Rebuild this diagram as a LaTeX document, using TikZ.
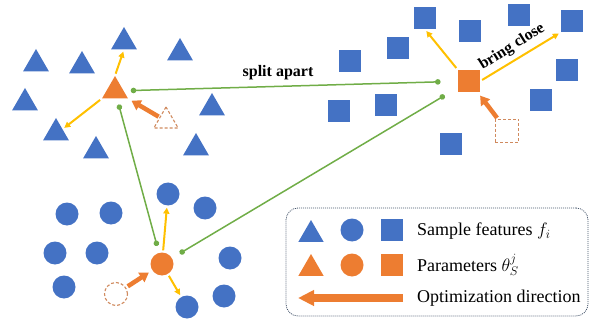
\documentclass[tikz,border=0pt]{standalone}
\usepackage{fix-cm}
\usepackage{fontspec}
\setmainfont{Liberation Serif}
\newfontfamily\tnr{Liberation Serif}
\usetikzlibrary{shapes.geometric,arrows.meta}
\definecolor{cblue}{HTML}{4472C4}
\definecolor{corange}{HTML}{ED7D31}
\definecolor{cyellow}{HTML}{FFC000}
\definecolor{cgreen}{HTML}{70AD47}
\definecolor{cdash}{HTML}{D08A5E}
\definecolor{cframe}{HTML}{44546A}
\begin{document}
\begin{tikzpicture}[x=1pt,y=-1pt,
  tri/.style={regular polygon, regular polygon sides=3, minimum size=30pt, inner sep=0pt, fill=cblue},
  cir/.style={circle, minimum size=23pt, inner sep=0pt, fill=cblue},
  sqr/.style={rectangle, minimum size=22.5pt, inner sep=0pt, fill=cblue},
  par/.style={fill=corange},
  ghost/.style={fill=none, draw=cdash, line width=1.1pt, dash pattern=on 3pt off 2pt},
  yarrow/.style={draw=cyellow, line width=2pt, -{Triangle[length=6pt,width=6pt]}, shorten <=2pt, shorten >=2pt},
  oarrow/.style={draw=corange, line width=4.5pt, -{Triangle[length=9pt,width=11pt]}},
  gline/.style={draw=cgreen, line width=1.5pt, {Circle[length=5.5pt]}-{Circle[length=5.5pt]}},
  lbl/.style={font=\tnr\fontsize{16}{18}\selectfont\bfseries, inner sep=0pt},
  legtxt/.style={font=\tnr\fontsize{18}{20}\selectfont, anchor=west, inner sep=0pt}
]
\useasboundingbox (0,0) rectangle (591,323);

% triangles
\node[tri] (t1) at (124,42) {};
\node[tri] (t2) at (36,64) {};
\node[tri] (t3) at (82,66) {};
\node[tri] (t4) at (180,53) {};
\node[tri] (t5) at (25,103) {};
\node[tri] (tA) at (212,108) {};
\node[tri] (tB) at (56,133) {};
\node[tri] (tC) at (96,151) {};
\node[tri] (tD) at (196,148) {};
\node[tri, par] (T0) at (115,91) {};
\node[tri, ghost, minimum size=28pt] (dT) at (166,121) {};

% squares
\node[sqr] (s1) at (425,18) {};
\node[sqr] (s2) at (470,31) {};
\node[sqr] (s3) at (519,15) {};
\node[sqr] (s4) at (572,21) {};
\node[sqr] (s5) at (398,48) {};
\node[sqr] (s6) at (350,61) {};
\node[sqr] (s7) at (567,70) {};
\node[sqr] (s8) at (386,105) {};
\node[sqr] (s9) at (339,111) {};
\node[sqr] (s10) at (541,100) {};
\node[sqr] (s11) at (451,144) {};
\node[sqr, par] (S0) at (469,81) {};
\node[sqr, ghost, minimum size=23.5pt] (dS) at (507,131) {};

% circles
\node[cir] (c1) at (168,194) {};
\node[cir] (c2) at (205,208) {};
\node[cir] (c3) at (67,214) {};
\node[cir] (c4) at (111,213) {};
\node[cir] (c5) at (55,253) {};
\node[cir] (c6) at (97,253) {};
\node[cir] (c7) at (230,258) {};
\node[cir] (c8) at (64,287) {};
\node[cir] (c9) at (224,296) {};
\node[cir] (c10) at (187,307) {};
\node[cir, par] (C0) at (162,264) {};
\node[cir, ghost] (dC) at (116,294) {};

% bring-close arrows
\draw[yarrow] (T0.north) -- (t1.south);
\draw[yarrow] (T0.corner 2) -- (tB.side 3);
\draw[yarrow] (S0.north west) -- (s1.south);
\draw[yarrow] (S0.east) -- (s4.south west);
\draw[yarrow] (C0) -- (c1);
\draw[yarrow] (C0) -- (c10);

% optimization arrows
\draw[oarrow, shorten <=1pt, shorten >=4pt] (dT) -- (T0);
\draw[oarrow, shorten <=1pt, shorten >=4pt] (dS) -- (S0);
\draw[oarrow, shorten <=2pt, shorten >=4pt] (dC) -- (C0);

% split-apart lines
\draw[gline, shorten <=7pt, shorten >=17pt] (T0) -- (S0);
\draw[gline, shorten <=6pt, shorten >=7pt] (T0) -- (C0);
\draw[gline, shorten <=9pt, shorten >=15pt] (C0) -- (S0);

\node[lbl] (split) at (278,73) {split apart};
\node[lbl, rotate=32] (bring) at (512,47) {bring close};

% legend
\node[draw=cframe, line width=0.8pt, dash pattern=on 1pt off 1pt, rounded corners=12pt,
      minimum width=302pt, minimum height=108pt, inner sep=0pt] (legend) at (437,262) {};
\node[tri, minimum size=29pt] (lt1) at (311,234.5) {};
\node[cir] (lc1) at (352,230) {};
\node[sqr] (ls1) at (392,230) {};
\node[tri, par, minimum size=29pt] (lt2) at (311,268.5) {};
\node[cir, par] (lc2) at (352,265) {};
\node[sqr, par] (ls2) at (392,265) {};
\coordinate (la1) at (403,298);
\coordinate (la2) at (298,298);
\draw[draw=corange, line width=8pt, -{Triangle[length=16pt,width=15pt]}] (la1) -- (la2);
\node[legtxt] (l1) at (417,231) {Sample features $f_i$};
\node[legtxt] (l2) at (417,265) {Parameters $\theta_S^j$};
\node[legtxt] (l3) at (417,298) {Optimization direction};
\end{tikzpicture}
\end{document}
